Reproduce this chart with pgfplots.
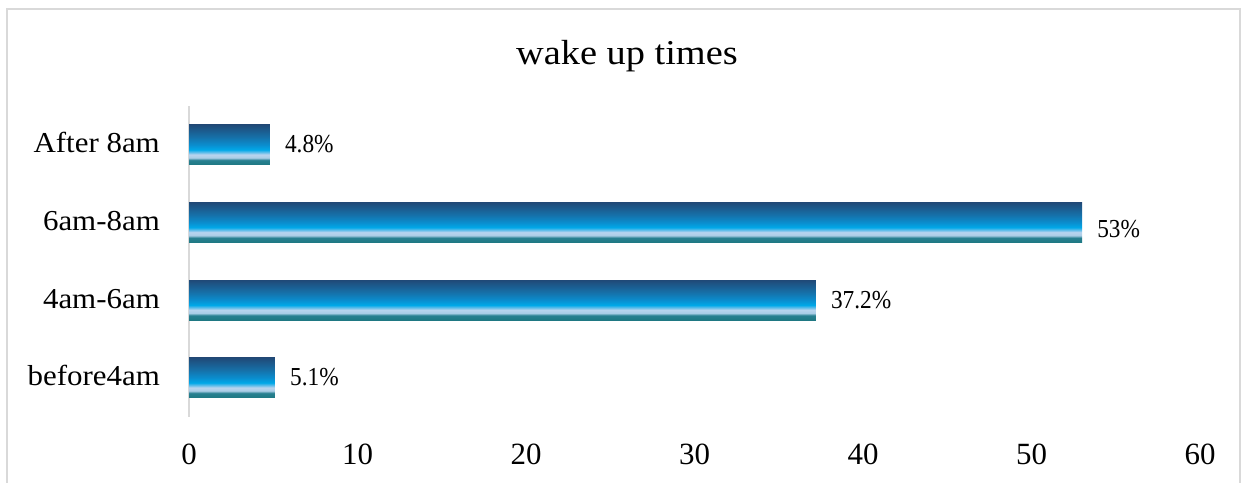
\documentclass[border=0pt]{standalone}
\usepackage{fontspec}
\setmainfont{Liberation Serif}
\newfontfamily\titlefont[FakeStretch=1.1]{Liberation Serif}
\newfontfamily\catfont[FakeStretch=1.07]{Liberation Serif}
\newfontfamily\labfont[FakeStretch=0.9]{Liberation Serif}
\usepackage{pgfplots}
\pgfplotsset{compat=1.18}
\definecolor{framegray}{RGB}{217,217,217}
\definecolor{axgray}{RGB}{217,217,217}
\definecolor{cdark}{RGB}{32,74,120}
\definecolor{cmidA}{RGB}{22,112,168}
\definecolor{cmidB}{RGB}{10,142,207}
\definecolor{ccyan}{RGB}{0,168,232}
\definecolor{cpale}{RGB}{120,195,235}
\definecolor{clight}{RGB}{185,212,238}
\definecolor{clight2}{RGB}{170,205,230}
\definecolor{cteal2}{RGB}{40,128,145}
\definecolor{cteal}{RGB}{30,120,130}
\pgfdeclareverticalshading{barshade}{100bp}{%
  color(0bp)=(cteal); color(25bp)=(cteal); color(31bp)=(cteal2);
  color(34bp)=(clight2); color(38bp)=(clight); color(40bp)=(cpale);
  color(44bp)=(ccyan); color(50bp)=(cmidB); color(60bp)=(cmidA);
  color(75bp)=(cdark); color(100bp)=(cdark)}
\pgfplotsset{
  mybar/.style={xbar, bar width=40bp, bar shift=0pt, draw=none, shading=barshade,
    point meta=x,
    nodes near coords={\pgfmathprintnumber{\pgfplotspointmeta}\%},
    nodes near coords style={anchor=base west, inner sep=0pt, xshift=15bp, yshift=-8bp, text=black, font=\labfont\fontsize{26}{26}\selectfont}},
}
\begin{document}
\begin{tikzpicture}[x=1bp,y=1bp]
\useasboundingbox (0,0) rectangle (1246,483);
\draw[line width=2bp, color=framegray] (7,-10) -- (7,474) -- (1240,474) -- (1240,-10);
\node[anchor=base, inner sep=0, font=\titlefont\fontsize{35}{38}\selectfont] at (627,418) {wake up times};
\begin{axis}[
  at={(189bp,66.2bp)}, anchor=south west,
  scale only axis, width=1011bp, height=310.7bp,
  xmin=0, xmax=60, ymin=-0.5, ymax=3.5,
  axis lines*=left,
  x axis line style={draw=none},
  y axis line style={draw=axgray, line width=2bp, -},
  major tick length=0pt,
  xtick={0,10,20,30,40,50,60},
  ytick={0,1,2,3},
  yticklabels={before4am,4am-6am,6am-8am,After 8am},
  /pgf/number format/assume math mode=true,
  xticklabel style={anchor=base, inner sep=0pt, yshift=-48bp, font=\fontsize{31}{31}\selectfont},
  yticklabel style={anchor=base east, inner sep=0pt, xshift=-29bp, yshift=-8bp, font=\catfont\fontsize{29}{29}\selectfont},
]
\addplot[mybar] coordinates {(5.1,0)};
\addplot[mybar] coordinates {(37.2,1)};
\addplot[mybar, nodes near coords style={yshift=-7bp}] coordinates {(53,2)};
\addplot[mybar] coordinates {(4.8,3)};
\end{axis}
\end{tikzpicture}
\end{document}
